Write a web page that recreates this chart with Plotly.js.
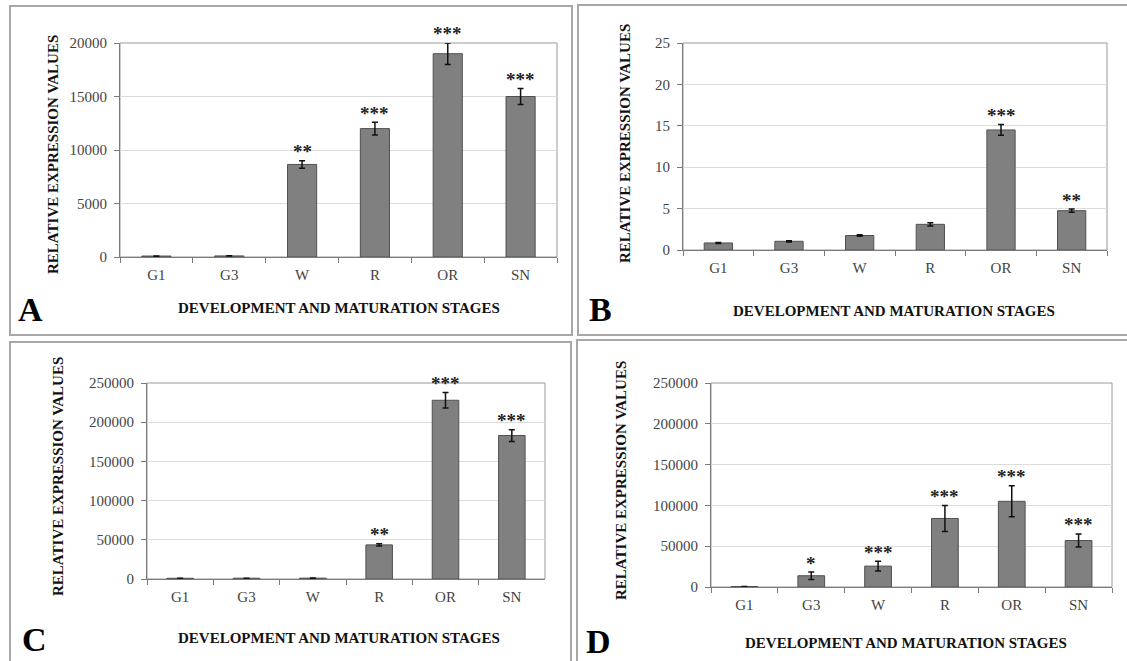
<!DOCTYPE html>
<html>
<head>
<meta charset="utf-8">
<script src="https://cdn.plot.ly/plotly-3.0.1.min.js"></script>
<style>
  html, body { margin: 0; padding: 0; background: #fff; }
  #chart { width: 1127px; height: 661px; }
</style>
</head>
<body>
<div id="chart"></div>
<script>
// Development and maturation stages (shared category axis)
const stages = ['G1', 'G3', 'W', 'R', 'OR', 'SN'];

// Panel A
const valuesA = [90, 100, 8650, 12000, 19000, 15000];
const errorsA = [10, 10, 350, 600, 1000, 750];
const starsA = ['', '', '**', '***', '***', '***'];
const ticksA = [0, 5000, 10000, 15000, 20000];

// Panel B
const valuesB = [0.85, 1.05, 1.75, 3.1, 14.5, 4.75];
const errorsB = [0.05, 0.07, 0.1, 0.2, 0.65, 0.2];
const starsB = ['', '', '', '', '***', '**'];
const ticksB = [0, 5, 10, 15, 20, 25];

// Panel C
const valuesC = [900, 1000, 1100, 43500, 228000, 183000];
const errorsC = [100, 100, 100, 1500, 10000, 7500];
const starsC = ['', '', '', '**', '***', '***'];
const ticksC = [0, 50000, 100000, 150000, 200000, 250000];

// Panel D
const valuesD = [600, 13800, 25600, 84000, 105000, 57000];
const errorsD = [100, 4500, 6000, 16000, 19000, 8000];
const starsD = ['', '*', '***', '***', '***', '***'];
const ticksD = [0, 50000, 100000, 150000, 200000, 250000];

const panelLetters = ['A', 'B', 'C', 'D'];
const xTitle = 'DEVELOPMENT AND MATURATION STAGES';
const yTitle = 'RELATIVE EXPRESSION VALUES';

const W = 1127, H = 661;
const px = v => v / W;
const py = v => 1 - v / H;

const SERIF = 'Liberation Serif';

// Pixel geometry of each panel: plot box, frame, title and letter placement
const panels = [
  { vals: valuesA, errs: errorsA, stars: starsA, ticks: ticksA,
    box: [120, 557, 43, 257], frame: [10, 572, 6, 335],
    xt: [339, 308], yt: [53, 155], letter: [30, 310] },
  { vals: valuesB, errs: errorsB, stars: starsB, ticks: ticksB,
    box: [683, 1107, 43, 250], frame: [578, 1140, 5, 335],
    xt: [894, 311], yt: [625, 144], letter: [600, 310] },
  { vals: valuesC, errs: errorsC, stars: starsC, ticks: ticksC,
    box: [147, 545, 383, 579], frame: [10, 571, 342, 700],
    xt: [339, 638], yt: [58, 477], letter: [34, 639] },
  { vals: valuesD, errs: errorsD, stars: starsD, ticks: ticksD,
    box: [711, 1112, 383, 587], frame: [577, 1140, 340, 700],
    xt: [906, 643], yt: [621, 480], letter: [598, 641] }
];

const data = [];
const layout = {
  width: W, height: H,
  margin: { l: 0, r: 0, t: 0, b: 0 },
  paper_bgcolor: '#ffffff',
  plot_bgcolor: '#ffffff',
  showlegend: false,
  bargap: 0.6,
  font: { family: SERIF, color: '#333' },
  annotations: [],
  shapes: []
};

panels.forEach((p, i) => {
  const n = i + 1;
  const xa = 'x' + (n === 1 ? '' : n);
  const ya = 'y' + (n === 1 ? '' : n);
  const xKey = 'xaxis' + (n === 1 ? '' : n);
  const yKey = 'yaxis' + (n === 1 ? '' : n);
  const top = p.ticks[p.ticks.length - 1];

  data.push({
    type: 'bar', x: stages, y: p.vals, xaxis: xa, yaxis: ya,
    marker: { color: '#808080', line: { color: '#505050', width: 1 } },
    error_y: { type: 'data', array: p.errs, visible: true,
               color: '#111', thickness: 1.5, width: 3 },
    hoverinfo: 'skip'
  });

  layout[xKey] = {
    domain: [px(p.box[0]), px(p.box[1])],
    anchor: ya, type: 'category',
    showgrid: false, zeroline: false,
    showline: true, linecolor: '#7a7a7a', linewidth: 1,
    ticks: 'outside', tickson: 'boundaries', ticklen: 5, tickcolor: '#7a7a7a',
    tickfont: { family: SERIF, size: 15, color: '#444' },
    ticklabelstandoff: 4,
    fixedrange: true
  };
  layout[yKey] = {
    domain: [py(p.box[3]), py(p.box[2])],
    anchor: xa, range: [0, top],
    tickvals: p.ticks, tickformat: 'd',
    showgrid: true, gridcolor: '#dcdcdc', gridwidth: 1,
    zeroline: false,
    showline: true, linecolor: '#7a7a7a', linewidth: 1,
    ticks: 'outside', ticklen: 5, tickcolor: '#7a7a7a',
    tickfont: { family: SERIF, size: 15, color: '#444' },
    ticklabelstandoff: 4,
    fixedrange: true
  };

  // plot-area border (top and right sides)
  layout.shapes.push({
    type: 'rect', xref: xa + ' domain', yref: ya + ' domain',
    x0: 0, x1: 1, y0: 0, y1: 1,
    line: { color: '#9a9a9a', width: 1 }, layer: 'below'
  });

  // panel frame
  layout.shapes.push({
    type: 'rect', xref: 'paper', yref: 'paper',
    x0: px(p.frame[0]), x1: px(p.frame[1]),
    y0: py(p.frame[3]), y1: py(p.frame[2]),
    line: { color: '#a8a8a8', width: 2 }
  });

  // significance marks above the error bars
  stages.forEach((s, k) => {
    if (!p.stars[k]) return;
    layout.annotations.push({
      xref: xa, yref: ya, x: s, y: p.vals[k] + p.errs[k],
      text: '<b>' + p.stars[k] + '</b>', showarrow: false,
      yanchor: 'middle', yshift: 9,
      font: { family: SERIF, size: 19, color: '#222' }
    });
  });

  // axis titles
  layout.annotations.push({
    xref: 'paper', yref: 'paper', x: px(p.xt[0]), y: py(p.xt[1]),
    text: '<b>' + xTitle + '</b>', showarrow: false,
    xanchor: 'center', yanchor: 'middle',
    font: { family: SERIF, size: 15, color: '#111' }
  });
  layout.annotations.push({
    xref: 'paper', yref: 'paper', x: px(p.yt[0]), y: py(p.yt[1]),
    text: '<b>' + yTitle + '</b>', showarrow: false, textangle: -90,
    xanchor: 'center', yanchor: 'middle',
    font: { family: SERIF, size: 15, color: '#111' }
  });

  // panel letter
  layout.annotations.push({
    xref: 'paper', yref: 'paper', x: px(p.letter[0]), y: py(p.letter[1]),
    text: '<b>' + panelLetters[i] + '</b>', showarrow: false,
    xanchor: 'center', yanchor: 'middle',
    font: { family: SERIF, size: 34, color: '#000' }
  });
});

Plotly.newPlot('chart', data, layout, { staticPlot: true, displayModeBar: false });
</script>
</body>
</html>
